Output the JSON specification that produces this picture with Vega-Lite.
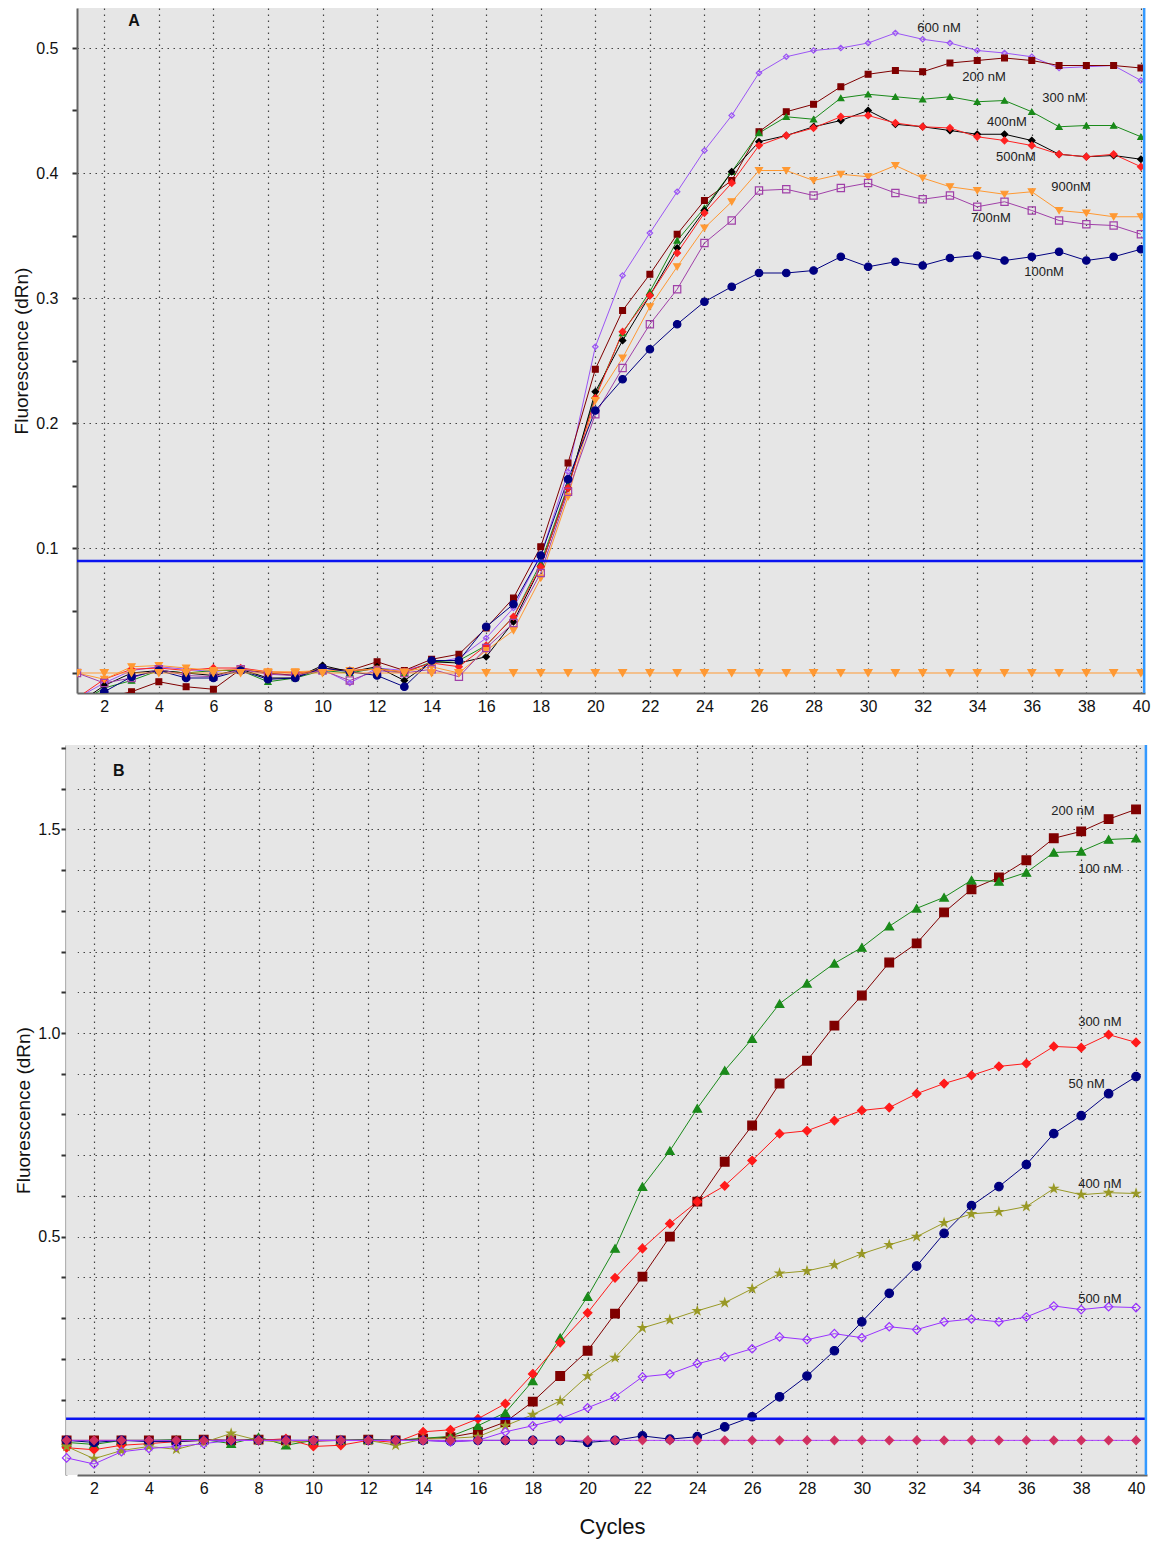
{
"$schema": "https://vega.github.io/schema/vega-lite/v6.json",
"background": "white",
"padding": {"left": 12, "top": 6, "right": 10, "bottom": 5},
"spacing": 25,
"resolve": {"scale": {"color": "independent", "stroke": "independent", "fill": "independent", "shape": "independent", "size": "independent"}},
"config": {
  "font": "Liberation Sans",
  "view": {"fill": "#e6e6e6", "stroke": null},
  "axis": {"labelFont": "Liberation Sans", "labelFontSize": 16, "labelColor": "#111", "titleFont": "Liberation Sans", "titleFontWeight": "normal", "titleColor": "#111", "gridDash": [1.5, 4.5], "gridColor": "#444", "gridWidth": 1.2, "domainColor": "#666", "domainWidth": 2, "tickColor": "#333", "tickWidth": 2, "tickSize": 5, "labelFlush": false, "labelOverlap": false}
},
"datasets": {
"a": [
{"s":"600","c":1,"v":-0.02},{"s":"600","c":2,"v":-0.008},{"s":"600","c":3,"v":0.002},{"s":"600","c":4,"v":0.005},{"s":"600","c":5,"v":0.003},{"s":"600","c":6,"v":0.001},{"s":"600","c":7,"v":0.004},{"s":"600","c":8,"v":0},{"s":"600","c":9,"v":-0.002},{"s":"600","c":10,"v":0.003},{"s":"600","c":11,"v":-0.008},{"s":"600","c":12,"v":0.004},{"s":"600","c":13,"v":0.002},{"s":"600","c":14,"v":0.008},{"s":"600","c":15,"v":0.012},{"s":"600","c":16,"v":0.028},{"s":"600","c":17,"v":0.052},{"s":"600","c":18,"v":0.094},{"s":"600","c":19,"v":0.161},{"s":"600","c":20,"v":0.261},{"s":"600","c":21,"v":0.318},{"s":"600","c":22,"v":0.352},{"s":"600","c":23,"v":0.385},{"s":"600","c":24,"v":0.418},{"s":"600","c":25,"v":0.446},{"s":"600","c":26,"v":0.48},{"s":"600","c":27,"v":0.493},{"s":"600","c":28,"v":0.498},{"s":"600","c":29,"v":0.5},{"s":"600","c":30,"v":0.504},{"s":"600","c":31,"v":0.512},{"s":"600","c":32,"v":0.507},{"s":"600","c":33,"v":0.504},{"s":"600","c":34,"v":0.498},{"s":"600","c":35,"v":0.496},{"s":"600","c":36,"v":0.493},{"s":"600","c":37,"v":0.484},{"s":"600","c":38,"v":0.485},{"s":"600","c":39,"v":0.486},{"s":"600","c":40,"v":0.474},
{"s":"200","c":1,"v":-0.03},{"s":"200","c":2,"v":-0.02},{"s":"200","c":3,"v":-0.015},{"s":"200","c":4,"v":-0.007},{"s":"200","c":5,"v":-0.011},{"s":"200","c":6,"v":-0.013},{"s":"200","c":7,"v":0.003},{"s":"200","c":8,"v":0},{"s":"200","c":9,"v":-0.002},{"s":"200","c":10,"v":0.004},{"s":"200","c":11,"v":0.002},{"s":"200","c":12,"v":0.009},{"s":"200","c":13,"v":0.002},{"s":"200","c":14,"v":0.011},{"s":"200","c":15,"v":0.015},{"s":"200","c":16,"v":0.036},{"s":"200","c":17,"v":0.06},{"s":"200","c":18,"v":0.101},{"s":"200","c":19,"v":0.168},{"s":"200","c":20,"v":0.243},{"s":"200","c":21,"v":0.29},{"s":"200","c":22,"v":0.319},{"s":"200","c":23,"v":0.351},{"s":"200","c":24,"v":0.378},{"s":"200","c":25,"v":0.394},{"s":"200","c":26,"v":0.433},{"s":"200","c":27,"v":0.449},{"s":"200","c":28,"v":0.455},{"s":"200","c":29,"v":0.469},{"s":"200","c":30,"v":0.479},{"s":"200","c":31,"v":0.482},{"s":"200","c":32,"v":0.481},{"s":"200","c":33,"v":0.488},{"s":"200","c":34,"v":0.49},{"s":"200","c":35,"v":0.492},{"s":"200","c":36,"v":0.49},{"s":"200","c":37,"v":0.486},{"s":"200","c":38,"v":0.486},{"s":"200","c":39,"v":0.486},{"s":"200","c":40,"v":0.484},
{"s":"300","c":1,"v":-0.025},{"s":"300","c":2,"v":-0.012},{"s":"300","c":3,"v":-0.006},{"s":"300","c":4,"v":0.002},{"s":"300","c":5,"v":0},{"s":"300","c":6,"v":0.002},{"s":"300","c":7,"v":0.002},{"s":"300","c":8,"v":-0.007},{"s":"300","c":9,"v":-0.004},{"s":"300","c":10,"v":0.002},{"s":"300","c":11,"v":0},{"s":"300","c":12,"v":0.004},{"s":"300","c":13,"v":0},{"s":"300","c":14,"v":0.009},{"s":"300","c":15,"v":0.01},{"s":"300","c":16,"v":0.022},{"s":"300","c":17,"v":0.045},{"s":"300","c":18,"v":0.088},{"s":"300","c":19,"v":0.15},{"s":"300","c":20,"v":0.222},{"s":"300","c":21,"v":0.272},{"s":"300","c":22,"v":0.305},{"s":"300","c":23,"v":0.346},{"s":"300","c":24,"v":0.372},{"s":"300","c":25,"v":0.401},{"s":"300","c":26,"v":0.432},{"s":"300","c":27,"v":0.445},{"s":"300","c":28,"v":0.443},{"s":"300","c":29,"v":0.46},{"s":"300","c":30,"v":0.463},{"s":"300","c":31,"v":0.461},{"s":"300","c":32,"v":0.459},{"s":"300","c":33,"v":0.461},{"s":"300","c":34,"v":0.457},{"s":"300","c":35,"v":0.458},{"s":"300","c":36,"v":0.449},{"s":"300","c":37,"v":0.437},{"s":"300","c":38,"v":0.438},{"s":"300","c":39,"v":0.438},{"s":"300","c":40,"v":0.429},
{"s":"400","c":1,"v":-0.025},{"s":"400","c":2,"v":-0.01},{"s":"400","c":3,"v":0},{"s":"400","c":4,"v":0.002},{"s":"400","c":5,"v":0},{"s":"400","c":6,"v":-0.002},{"s":"400","c":7,"v":0.003},{"s":"400","c":8,"v":-0.004},{"s":"400","c":9,"v":-0.004},{"s":"400","c":10,"v":0.006},{"s":"400","c":11,"v":0.001},{"s":"400","c":12,"v":0.005},{"s":"400","c":13,"v":-0.006},{"s":"400","c":14,"v":0.009},{"s":"400","c":15,"v":0.008},{"s":"400","c":16,"v":0.013},{"s":"400","c":17,"v":0.041},{"s":"400","c":18,"v":0.085},{"s":"400","c":19,"v":0.148},{"s":"400","c":20,"v":0.225},{"s":"400","c":21,"v":0.266},{"s":"400","c":22,"v":0.302},{"s":"400","c":23,"v":0.34},{"s":"400","c":24,"v":0.37},{"s":"400","c":25,"v":0.401},{"s":"400","c":26,"v":0.425},{"s":"400","c":27,"v":0.43},{"s":"400","c":28,"v":0.437},{"s":"400","c":29,"v":0.442},{"s":"400","c":30,"v":0.45},{"s":"400","c":31,"v":0.439},{"s":"400","c":32,"v":0.437},{"s":"400","c":33,"v":0.434},{"s":"400","c":34,"v":0.431},{"s":"400","c":35,"v":0.431},{"s":"400","c":36,"v":0.426},{"s":"400","c":37,"v":0.415},{"s":"400","c":38,"v":0.413},{"s":"400","c":39,"v":0.414},{"s":"400","c":40,"v":0.411},
{"s":"500","c":1,"v":-0.02},{"s":"500","c":2,"v":-0.005},{"s":"500","c":3,"v":0.003},{"s":"500","c":4,"v":0.004},{"s":"500","c":5,"v":0.002},{"s":"500","c":6,"v":0.004},{"s":"500","c":7,"v":0.004},{"s":"500","c":8,"v":0.001},{"s":"500","c":9,"v":0},{"s":"500","c":10,"v":0.002},{"s":"500","c":11,"v":0.002},{"s":"500","c":12,"v":0.003},{"s":"500","c":13,"v":0.001},{"s":"500","c":14,"v":0.008},{"s":"500","c":15,"v":0.005},{"s":"500","c":16,"v":0.022},{"s":"500","c":17,"v":0.045},{"s":"500","c":18,"v":0.085},{"s":"500","c":19,"v":0.148},{"s":"500","c":20,"v":0.22},{"s":"500","c":21,"v":0.273},{"s":"500","c":22,"v":0.302},{"s":"500","c":23,"v":0.336},{"s":"500","c":24,"v":0.368},{"s":"500","c":25,"v":0.392},{"s":"500","c":26,"v":0.422},{"s":"500","c":27,"v":0.43},{"s":"500","c":28,"v":0.436},{"s":"500","c":29,"v":0.445},{"s":"500","c":30,"v":0.446},{"s":"500","c":31,"v":0.44},{"s":"500","c":32,"v":0.437},{"s":"500","c":33,"v":0.436},{"s":"500","c":34,"v":0.429},{"s":"500","c":35,"v":0.426},{"s":"500","c":36,"v":0.422},{"s":"500","c":37,"v":0.415},{"s":"500","c":38,"v":0.413},{"s":"500","c":39,"v":0.415},{"s":"500","c":40,"v":0.405},
{"s":"900","c":1,"v":0},{"s":"900","c":2,"v":-0.005},{"s":"900","c":3,"v":0.005},{"s":"900","c":4,"v":0.006},{"s":"900","c":5,"v":0.004},{"s":"900","c":6,"v":0.002},{"s":"900","c":7,"v":0.003},{"s":"900","c":8,"v":0.001},{"s":"900","c":9,"v":0.001},{"s":"900","c":10,"v":0.002},{"s":"900","c":11,"v":0.002},{"s":"900","c":12,"v":0.003},{"s":"900","c":13,"v":0.001},{"s":"900","c":14,"v":0.005},{"s":"900","c":15,"v":0},{"s":"900","c":16,"v":0.018},{"s":"900","c":17,"v":0.034},{"s":"900","c":18,"v":0.076},{"s":"900","c":19,"v":0.141},{"s":"900","c":20,"v":0.218},{"s":"900","c":21,"v":0.252},{"s":"900","c":22,"v":0.293},{"s":"900","c":23,"v":0.325},{"s":"900","c":24,"v":0.356},{"s":"900","c":25,"v":0.377},{"s":"900","c":26,"v":0.402},{"s":"900","c":27,"v":0.402},{"s":"900","c":28,"v":0.394},{"s":"900","c":29,"v":0.399},{"s":"900","c":30,"v":0.397},{"s":"900","c":31,"v":0.406},{"s":"900","c":32,"v":0.396},{"s":"900","c":33,"v":0.389},{"s":"900","c":34,"v":0.386},{"s":"900","c":35,"v":0.383},{"s":"900","c":36,"v":0.385},{"s":"900","c":37,"v":0.37},{"s":"900","c":38,"v":0.368},{"s":"900","c":39,"v":0.365},{"s":"900","c":40,"v":0.365},
{"s":"700","c":1,"v":0},{"s":"700","c":2,"v":-0.008},{"s":"700","c":3,"v":-0.004},{"s":"700","c":4,"v":0.003},{"s":"700","c":5,"v":-0.002},{"s":"700","c":6,"v":-0.003},{"s":"700","c":7,"v":0.003},{"s":"700","c":8,"v":-0.001},{"s":"700","c":9,"v":-0.002},{"s":"700","c":10,"v":0.002},{"s":"700","c":11,"v":-0.006},{"s":"700","c":12,"v":0.002},{"s":"700","c":13,"v":0},{"s":"700","c":14,"v":0.003},{"s":"700","c":15,"v":-0.003},{"s":"700","c":16,"v":0.02},{"s":"700","c":17,"v":0.04},{"s":"700","c":18,"v":0.08},{"s":"700","c":19,"v":0.145},{"s":"700","c":20,"v":0.207},{"s":"700","c":21,"v":0.244},{"s":"700","c":22,"v":0.279},{"s":"700","c":23,"v":0.307},{"s":"700","c":24,"v":0.344},{"s":"700","c":25,"v":0.362},{"s":"700","c":26,"v":0.386},{"s":"700","c":27,"v":0.387},{"s":"700","c":28,"v":0.382},{"s":"700","c":29,"v":0.388},{"s":"700","c":30,"v":0.392},{"s":"700","c":31,"v":0.384},{"s":"700","c":32,"v":0.379},{"s":"700","c":33,"v":0.382},{"s":"700","c":34,"v":0.373},{"s":"700","c":35,"v":0.377},{"s":"700","c":36,"v":0.37},{"s":"700","c":37,"v":0.362},{"s":"700","c":38,"v":0.359},{"s":"700","c":39,"v":0.358},{"s":"700","c":40,"v":0.351},
{"s":"100","c":1,"v":-0.03},{"s":"100","c":2,"v":-0.015},{"s":"100","c":3,"v":-0.003},{"s":"100","c":4,"v":0.002},{"s":"100","c":5,"v":-0.004},{"s":"100","c":6,"v":-0.004},{"s":"100","c":7,"v":0.002},{"s":"100","c":8,"v":-0.005},{"s":"100","c":9,"v":-0.004},{"s":"100","c":10,"v":0.004},{"s":"100","c":11,"v":0.001},{"s":"100","c":12,"v":-0.002},{"s":"100","c":13,"v":-0.011},{"s":"100","c":14,"v":0.01},{"s":"100","c":15,"v":0.01},{"s":"100","c":16,"v":0.037},{"s":"100","c":17,"v":0.055},{"s":"100","c":18,"v":0.094},{"s":"100","c":19,"v":0.155},{"s":"100","c":20,"v":0.21},{"s":"100","c":21,"v":0.235},{"s":"100","c":22,"v":0.259},{"s":"100","c":23,"v":0.279},{"s":"100","c":24,"v":0.297},{"s":"100","c":25,"v":0.309},{"s":"100","c":26,"v":0.32},{"s":"100","c":27,"v":0.32},{"s":"100","c":28,"v":0.322},{"s":"100","c":29,"v":0.333},{"s":"100","c":30,"v":0.325},{"s":"100","c":31,"v":0.329},{"s":"100","c":32,"v":0.326},{"s":"100","c":33,"v":0.332},{"s":"100","c":34,"v":0.334},{"s":"100","c":35,"v":0.33},{"s":"100","c":36,"v":0.333},{"s":"100","c":37,"v":0.337},{"s":"100","c":38,"v":0.33},{"s":"100","c":39,"v":0.333},{"s":"100","c":40,"v":0.339},
{"s":"NTC","c":1,"v":0},{"s":"NTC","c":2,"v":0},{"s":"NTC","c":3,"v":0},{"s":"NTC","c":4,"v":0},{"s":"NTC","c":5,"v":0},{"s":"NTC","c":6,"v":0},{"s":"NTC","c":7,"v":0},{"s":"NTC","c":8,"v":0},{"s":"NTC","c":9,"v":0},{"s":"NTC","c":10,"v":0},{"s":"NTC","c":11,"v":0},{"s":"NTC","c":12,"v":0},{"s":"NTC","c":13,"v":0},{"s":"NTC","c":14,"v":0},{"s":"NTC","c":15,"v":0},{"s":"NTC","c":16,"v":0},{"s":"NTC","c":17,"v":0},{"s":"NTC","c":18,"v":0},{"s":"NTC","c":19,"v":0},{"s":"NTC","c":20,"v":0},{"s":"NTC","c":21,"v":0},{"s":"NTC","c":22,"v":0},{"s":"NTC","c":23,"v":0},{"s":"NTC","c":24,"v":0},{"s":"NTC","c":25,"v":0},{"s":"NTC","c":26,"v":0},{"s":"NTC","c":27,"v":0},{"s":"NTC","c":28,"v":0},{"s":"NTC","c":29,"v":0},{"s":"NTC","c":30,"v":0},{"s":"NTC","c":31,"v":0},{"s":"NTC","c":32,"v":0},{"s":"NTC","c":33,"v":0},{"s":"NTC","c":34,"v":0},{"s":"NTC","c":35,"v":0},{"s":"NTC","c":36,"v":0},{"s":"NTC","c":37,"v":0},{"s":"NTC","c":38,"v":0},{"s":"NTC","c":39,"v":0},{"s":"NTC","c":40,"v":0}
],
"b": [
{"s":"200","c":1,"v":0},{"s":"200","c":2,"v":0},{"s":"200","c":3,"v":0},{"s":"200","c":4,"v":0},{"s":"200","c":5,"v":0},{"s":"200","c":6,"v":0.002},{"s":"200","c":7,"v":0},{"s":"200","c":8,"v":0.002},{"s":"200","c":9,"v":0},{"s":"200","c":10,"v":-0.002},{"s":"200","c":11,"v":0},{"s":"200","c":12,"v":0.002},{"s":"200","c":13,"v":0},{"s":"200","c":14,"v":0.004},{"s":"200","c":15,"v":0.008},{"s":"200","c":16,"v":0.02},{"s":"200","c":17,"v":0.045},{"s":"200","c":18,"v":0.095},{"s":"200","c":19,"v":0.158},{"s":"200","c":20,"v":0.22},{"s":"200","c":21,"v":0.311},{"s":"200","c":22,"v":0.402},{"s":"200","c":23,"v":0.5},{"s":"200","c":24,"v":0.586},{"s":"200","c":25,"v":0.684},{"s":"200","c":26,"v":0.773},{"s":"200","c":27,"v":0.876},{"s":"200","c":28,"v":0.932},{"s":"200","c":29,"v":1.018},{"s":"200","c":30,"v":1.092},{"s":"200","c":31,"v":1.173},{"s":"200","c":32,"v":1.22},{"s":"200","c":33,"v":1.296},{"s":"200","c":34,"v":1.353},{"s":"200","c":35,"v":1.382},{"s":"200","c":36,"v":1.424},{"s":"200","c":37,"v":1.478},{"s":"200","c":38,"v":1.495},{"s":"200","c":39,"v":1.525},{"s":"200","c":40,"v":1.549},
{"s":"100","c":1,"v":-0.005},{"s":"100","c":2,"v":-0.01},{"s":"100","c":3,"v":0},{"s":"100","c":4,"v":0},{"s":"100","c":5,"v":0.002},{"s":"100","c":6,"v":0.002},{"s":"100","c":7,"v":-0.008},{"s":"100","c":8,"v":0.008},{"s":"100","c":9,"v":-0.012},{"s":"100","c":10,"v":0},{"s":"100","c":11,"v":0},{"s":"100","c":12,"v":0.002},{"s":"100","c":13,"v":0},{"s":"100","c":14,"v":0.005},{"s":"100","c":15,"v":0.01},{"s":"100","c":16,"v":0.036},{"s":"100","c":17,"v":0.068},{"s":"100","c":18,"v":0.146},{"s":"100","c":19,"v":0.252},{"s":"100","c":20,"v":0.353},{"s":"100","c":21,"v":0.471},{"s":"100","c":22,"v":0.623},{"s":"100","c":23,"v":0.711},{"s":"100","c":24,"v":0.815},{"s":"100","c":25,"v":0.908},{"s":"100","c":26,"v":0.986},{"s":"100","c":27,"v":1.072},{"s":"100","c":28,"v":1.122},{"s":"100","c":29,"v":1.171},{"s":"100","c":30,"v":1.21},{"s":"100","c":31,"v":1.262},{"s":"100","c":32,"v":1.306},{"s":"100","c":33,"v":1.333},{"s":"100","c":34,"v":1.375},{"s":"100","c":35,"v":1.372},{"s":"100","c":36,"v":1.394},{"s":"100","c":37,"v":1.443},{"s":"100","c":38,"v":1.446},{"s":"100","c":39,"v":1.475},{"s":"100","c":40,"v":1.478},
{"s":"300","c":1,"v":-0.018},{"s":"300","c":2,"v":-0.023},{"s":"300","c":3,"v":-0.012},{"s":"300","c":4,"v":-0.008},{"s":"300","c":5,"v":-0.003},{"s":"300","c":6,"v":0},{"s":"300","c":7,"v":0},{"s":"300","c":8,"v":0},{"s":"300","c":9,"v":0.004},{"s":"300","c":10,"v":-0.015},{"s":"300","c":11,"v":-0.012},{"s":"300","c":12,"v":0},{"s":"300","c":13,"v":-0.005},{"s":"300","c":14,"v":0.021},{"s":"300","c":15,"v":0.026},{"s":"300","c":16,"v":0.053},{"s":"300","c":17,"v":0.09},{"s":"300","c":18,"v":0.163},{"s":"300","c":19,"v":0.24},{"s":"300","c":20,"v":0.313},{"s":"300","c":21,"v":0.399},{"s":"300","c":22,"v":0.471},{"s":"300","c":23,"v":0.532},{"s":"300","c":24,"v":0.586},{"s":"300","c":25,"v":0.625},{"s":"300","c":26,"v":0.687},{"s":"300","c":27,"v":0.753},{"s":"300","c":28,"v":0.76},{"s":"300","c":29,"v":0.785},{"s":"300","c":30,"v":0.81},{"s":"300","c":31,"v":0.817},{"s":"300","c":32,"v":0.851},{"s":"300","c":33,"v":0.876},{"s":"300","c":34,"v":0.896},{"s":"300","c":35,"v":0.918},{"s":"300","c":36,"v":0.925},{"s":"300","c":37,"v":0.967},{"s":"300","c":38,"v":0.964},{"s":"300","c":39,"v":0.996},{"s":"300","c":40,"v":0.977},
{"s":"50","c":1,"v":0},{"s":"50","c":2,"v":-0.005},{"s":"50","c":3,"v":0},{"s":"50","c":4,"v":-0.003},{"s":"50","c":5,"v":-0.003},{"s":"50","c":6,"v":0},{"s":"50","c":7,"v":0},{"s":"50","c":8,"v":0},{"s":"50","c":9,"v":0},{"s":"50","c":10,"v":0},{"s":"50","c":11,"v":0},{"s":"50","c":12,"v":0},{"s":"50","c":13,"v":0},{"s":"50","c":14,"v":0},{"s":"50","c":15,"v":-0.002},{"s":"50","c":16,"v":0},{"s":"50","c":17,"v":0},{"s":"50","c":18,"v":0},{"s":"50","c":19,"v":0},{"s":"50","c":20,"v":-0.005},{"s":"50","c":21,"v":0},{"s":"50","c":22,"v":0.011},{"s":"50","c":23,"v":0.003},{"s":"50","c":24,"v":0.009},{"s":"50","c":25,"v":0.033},{"s":"50","c":26,"v":0.058},{"s":"50","c":27,"v":0.107},{"s":"50","c":28,"v":0.158},{"s":"50","c":29,"v":0.22},{"s":"50","c":30,"v":0.291},{"s":"50","c":31,"v":0.361},{"s":"50","c":32,"v":0.428},{"s":"50","c":33,"v":0.508},{"s":"50","c":34,"v":0.576},{"s":"50","c":35,"v":0.623},{"s":"50","c":36,"v":0.677},{"s":"50","c":37,"v":0.753},{"s":"50","c":38,"v":0.797},{"s":"50","c":39,"v":0.851},{"s":"50","c":40,"v":0.893},
{"s":"400","c":1,"v":-0.015},{"s":"400","c":2,"v":-0.045},{"s":"400","c":3,"v":-0.025},{"s":"400","c":4,"v":-0.015},{"s":"400","c":5,"v":-0.022},{"s":"400","c":6,"v":-0.005},{"s":"400","c":7,"v":0.017},{"s":"400","c":8,"v":0},{"s":"400","c":9,"v":-0.005},{"s":"400","c":10,"v":0},{"s":"400","c":11,"v":0},{"s":"400","c":12,"v":0},{"s":"400","c":13,"v":-0.012},{"s":"400","c":14,"v":0.003},{"s":"400","c":15,"v":0.005},{"s":"400","c":16,"v":0.009},{"s":"400","c":17,"v":0.036},{"s":"400","c":18,"v":0.063},{"s":"400","c":19,"v":0.097},{"s":"400","c":20,"v":0.158},{"s":"400","c":21,"v":0.203},{"s":"400","c":22,"v":0.276},{"s":"400","c":23,"v":0.296},{"s":"400","c":24,"v":0.318},{"s":"400","c":25,"v":0.338},{"s":"400","c":26,"v":0.372},{"s":"400","c":27,"v":0.41},{"s":"400","c":28,"v":0.416},{"s":"400","c":29,"v":0.431},{"s":"400","c":30,"v":0.458},{"s":"400","c":31,"v":0.48},{"s":"400","c":32,"v":0.5},{"s":"400","c":33,"v":0.534},{"s":"400","c":34,"v":0.556},{"s":"400","c":35,"v":0.561},{"s":"400","c":36,"v":0.574},{"s":"400","c":37,"v":0.618},{"s":"400","c":38,"v":0.603},{"s":"400","c":39,"v":0.608},{"s":"400","c":40,"v":0.606},
{"s":"500","c":1,"v":-0.043},{"s":"500","c":2,"v":-0.058},{"s":"500","c":3,"v":-0.028},{"s":"500","c":4,"v":-0.02},{"s":"500","c":5,"v":-0.015},{"s":"500","c":6,"v":-0.008},{"s":"500","c":7,"v":0},{"s":"500","c":8,"v":0},{"s":"500","c":9,"v":0},{"s":"500","c":10,"v":0},{"s":"500","c":11,"v":0},{"s":"500","c":12,"v":0},{"s":"500","c":13,"v":0},{"s":"500","c":14,"v":0},{"s":"500","c":15,"v":-0.004},{"s":"500","c":16,"v":0},{"s":"500","c":17,"v":0.021},{"s":"500","c":18,"v":0.036},{"s":"500","c":19,"v":0.053},{"s":"500","c":20,"v":0.08},{"s":"500","c":21,"v":0.107},{"s":"500","c":22,"v":0.156},{"s":"500","c":23,"v":0.163},{"s":"500","c":24,"v":0.188},{"s":"500","c":25,"v":0.205},{"s":"500","c":26,"v":0.225},{"s":"500","c":27,"v":0.254},{"s":"500","c":28,"v":0.247},{"s":"500","c":29,"v":0.262},{"s":"500","c":30,"v":0.252},{"s":"500","c":31,"v":0.279},{"s":"500","c":32,"v":0.272},{"s":"500","c":33,"v":0.291},{"s":"500","c":34,"v":0.298},{"s":"500","c":35,"v":0.291},{"s":"500","c":36,"v":0.303},{"s":"500","c":37,"v":0.33},{"s":"500","c":38,"v":0.321},{"s":"500","c":39,"v":0.328},{"s":"500","c":40,"v":0.326},
{"s":"NTC","c":1,"v":0},{"s":"NTC","c":2,"v":0},{"s":"NTC","c":3,"v":0},{"s":"NTC","c":4,"v":0},{"s":"NTC","c":5,"v":0},{"s":"NTC","c":6,"v":0},{"s":"NTC","c":7,"v":0},{"s":"NTC","c":8,"v":0},{"s":"NTC","c":9,"v":0},{"s":"NTC","c":10,"v":0},{"s":"NTC","c":11,"v":0},{"s":"NTC","c":12,"v":0},{"s":"NTC","c":13,"v":0},{"s":"NTC","c":14,"v":0},{"s":"NTC","c":15,"v":0},{"s":"NTC","c":16,"v":0},{"s":"NTC","c":17,"v":0},{"s":"NTC","c":18,"v":0},{"s":"NTC","c":19,"v":0},{"s":"NTC","c":20,"v":0},{"s":"NTC","c":21,"v":0},{"s":"NTC","c":22,"v":0},{"s":"NTC","c":23,"v":0},{"s":"NTC","c":24,"v":0},{"s":"NTC","c":25,"v":0},{"s":"NTC","c":26,"v":0},{"s":"NTC","c":27,"v":0},{"s":"NTC","c":28,"v":0},{"s":"NTC","c":29,"v":0},{"s":"NTC","c":30,"v":0},{"s":"NTC","c":31,"v":0},{"s":"NTC","c":32,"v":0},{"s":"NTC","c":33,"v":0},{"s":"NTC","c":34,"v":0},{"s":"NTC","c":35,"v":0},{"s":"NTC","c":36,"v":0},{"s":"NTC","c":37,"v":0},{"s":"NTC","c":38,"v":0},{"s":"NTC","c":39,"v":0},{"s":"NTC","c":40,"v":0}
],
"labA": [
{"c":32.6,"v":0.516,"t":"600 nM"},{"c":34.25,"v":0.4768,"t":"200 nM"},{"c":37.18,"v":0.46,"t":"300 nM"},{"c":35.09,"v":0.441,"t":"400nM"},{"c":35.42,"v":0.413,"t":"500nM"},{"c":37.44,"v":0.389,"t":"900nM"},{"c":34.5,"v":0.364,"t":"700nM"},{"c":36.45,"v":0.321,"t":"100nM"}
],
"labB": [
{"c":37.7,"v":1.544,"t":"200 nM"},{"c":38.68,"v":1.402,"t":"100 nM"},{"c":38.68,"v":1.026,"t":"300 nM"},{"c":38.2,"v":0.876,"t":"50 nM"},{"c":38.68,"v":0.63,"t":"400 nM"},{"c":38.68,"v":0.348,"t":"500 nM"}
]
},
"vconcat": [
{
 "width": 1068, "height": 685,
 "layer": [
  {"data": {"name": "a"},
   "mark": {"type": "line", "strokeWidth": 1, "clip": true},
   "encoding": {
    "x": {"field": "c", "type": "quantitative", "scale": {"domain": [1, 40.15], "nice": false, "zero": false},
          "axis": {"values": [2,4,6,8,10,12,14,16,18,20,22,24,26,28,30,32,34,36,38,40], "ticks": false, "title": null, "labelPadding": 5}},
    "y": {"field": "v", "type": "quantitative", "scale": {"domain": [-0.016, 0.532], "nice": false, "zero": false},
          "axis": {"values": [0,0.05,0.1,0.15,0.2,0.25,0.3,0.35,0.4,0.45,0.5], "title": "Fluorescence (dRn)", "titleFontSize": 19, "titlePadding": 4, "labelPadding": 14, "labelOverlap": false,
                   "labelExpr": "datum.value > 0.01 && abs(datum.value*10 - round(datum.value*10)) < 0.01 ? format(datum.value, '.1f') : ''",
                   "gridOpacity": {"condition": {"test": "datum.value > 0.01 && abs(datum.value*10 - round(datum.value*10)) < 0.01", "value": 1}, "value": 0}}},
    "color": {"field": "s", "type": "nominal", "legend": null,
              "scale": {"domain": ["600","200","300","400","500","900","700","100","NTC"], "range": ["#9b55f5","#7f0000","#1a8a1a","#000000","#ff2222","#ff9933","#a040a8","#000080","#ff9933"]}}
   }},
  {"data": {"name": "a"},
   "mark": {"type": "point", "clip": true, "strokeWidth": 1.2, "opacity": 1},
   "encoding": {
    "x": {"field": "c", "type": "quantitative", "scale": {"domain": [1, 40.15], "nice": false, "zero": false}},
    "y": {"field": "v", "type": "quantitative", "scale": {"domain": [-0.016, 0.532], "nice": false, "zero": false}},
    "shape": {"field": "s", "type": "nominal", "legend": null,
              "scale": {"domain": ["600","200","300","400","500","900","700","100","NTC"], "range": ["diamond","square","triangle-up","diamond","diamond","triangle-down","square","circle","triangle-down"]}},
    "stroke": {"field": "s", "type": "nominal", "legend": null,
              "scale": {"domain": ["600","200","300","400","500","900","700","100","NTC"], "range": ["#9b55f5","#7f0000","#1a8a1a","#000000","#ff2222","#ff9933","#a040a8","#000080","#ff9933"]}},
    "fill": {"field": "s", "type": "nominal", "legend": null,
              "scale": {"domain": ["600","200","300","400","500","900","700","100","NTC"], "range": ["transparent","#7f0000","#1a8a1a","#000000","#ff2222","#ff9933","transparent","#000080","#ff9933"]}},
    "size": {"field": "s", "type": "nominal", "legend": null,
              "scale": {"domain": ["600","200","300","400","500","900","700","100","NTC"], "range": [30,60,55,50,45,60,45,55,60]}}
   }},
  {"data": {"values": [{}]},
   "mark": {"type": "rule", "color": "#0a14f0", "strokeWidth": 2.5},
   "encoding": {"y": {"datum": 0.0896, "type": "quantitative", "scale": {"domain": [-0.016, 0.532], "nice": false, "zero": false}}}},
  {"data": {"values": [{}]},
   "mark": {"type": "rule", "color": "#3399ff", "strokeWidth": 2.5},
   "encoding": {"x": {"datum": 40.12, "type": "quantitative", "scale": {"domain": [1, 40.15], "nice": false, "zero": false}}}},
  {"data": {"name": "labA"},
   "mark": {"type": "text", "fontSize": 13, "color": "#222", "align": "center", "baseline": "middle"},
   "encoding": {
    "x": {"field": "c", "type": "quantitative", "scale": {"domain": [1, 40.15], "nice": false, "zero": false}},
    "y": {"field": "v", "type": "quantitative", "scale": {"domain": [-0.016, 0.532], "nice": false, "zero": false}},
    "text": {"field": "t"}}},
  {"data": {"values": [{"c": 3.09, "v": 0.522, "t": "A"}]},
   "mark": {"type": "text", "fontSize": 16, "fontWeight": "bold", "color": "#111", "align": "center", "baseline": "middle"},
   "encoding": {
    "x": {"field": "c", "type": "quantitative", "scale": {"domain": [1, 40.15], "nice": false, "zero": false}},
    "y": {"field": "v", "type": "quantitative", "scale": {"domain": [-0.016, 0.532], "nice": false, "zero": false}},
    "text": {"field": "t"}}}
 ]
},
{
 "width": 1070, "height": 730,
 "layer": [
  {"data": {"name": "b"},
   "mark": {"type": "line", "strokeWidth": 1, "clip": false, "opacity": 0},
   "encoding": {
    "x": {"field": "c", "type": "quantitative", "scale": {"domain": [1.379, 40.4], "nice": false, "zero": false},
          "axis": {"values": [2,4,6,8,10,12,14,16,18,20,22,24,26,28,30,32,34,36,38,40], "grid": true, "gridOpacity": 1, "ticks": false, "title": "Cycles", "titleFontSize": 22, "titlePadding": 20, "labelPadding": 5}},
    "y": {"field": "v", "type": "quantitative", "scale": {"domain": [-0.085, 1.707], "nice": false, "zero": false},
          "axis": {"values": [0,0.05,0.1,0.15,0.2,0.25,0.3,0.35,0.4,0.45,0.5,0.55,0.6,0.65,0.7,0.75,0.8,0.85,0.9,0.95,1,1.05,1.1,1.15,1.2,1.25,1.3,1.35,1.4,1.45,1.5,1.55,1.6,1.65,1.7], "grid": true, "title": "Fluorescence (dRn)", "titleFontSize": 19, "titlePadding": 4, "labelPadding": 1, "labelOverlap": false, "offset": 11,
                   "labelExpr": "datum.value > 0.01 && abs(datum.value*2 - round(datum.value*2)) < 0.01 ? format(datum.value, '.1f') : ''",
                   "gridOpacity": {"condition": {"test": "abs(datum.value*10 - round(datum.value*10)) < 0.01", "value": 1}, "value": 0}}},
    "detail": {"field": "s", "type": "nominal"}
   }},
  {"data": {"values": [{}]},
   "mark": {"type": "rect", "color": "#e6e6e6", "clip": false},
   "encoding": {
    "x": {"datum": 0.98, "type": "quantitative", "scale": {"domain": [1.379, 40.4], "nice": false, "zero": false}},
    "x2": {"datum": 1.40},
    "y": {"datum": -0.085, "type": "quantitative", "scale": {"domain": [-0.085, 1.707], "nice": false, "zero": false}},
    "y2": {"datum": 1.707}}},
  {"data": {"name": "b"},
   "mark": {"type": "line", "strokeWidth": 1, "clip": false},
   "encoding": {
    "x": {"field": "c", "type": "quantitative", "scale": {"domain": [1.379, 40.4], "nice": false, "zero": false}},
    "y": {"field": "v", "type": "quantitative", "scale": {"domain": [-0.085, 1.707], "nice": false, "zero": false}},
    "color": {"field": "s", "type": "nominal", "legend": null,
              "scale": {"domain": ["200","100","300","50","400","500","NTC"], "range": ["#800000","#1a8a1a","#ff1a1a","#000080","#999926","#9933ff","#b040ff"]}}
   }},
  {"data": {"name": "b"},
   "mark": {"type": "point", "clip": false, "strokeWidth": 1.2, "opacity": 1},
   "encoding": {
    "x": {"field": "c", "type": "quantitative", "scale": {"domain": [1.379, 40.4], "nice": false, "zero": false}},
    "y": {"field": "v", "type": "quantitative", "scale": {"domain": [-0.085, 1.707], "nice": false, "zero": false}},
    "shape": {"field": "s", "type": "nominal", "legend": null,
              "scale": {"domain": ["200","100","300","50","400","500","NTC"], "range": ["square","triangle-up","diamond","circle","M0,-1L0.22,-0.3L0.95,-0.3L0.36,0.12L0.59,0.81L0,0.38L-0.59,0.81L-0.36,0.12L-0.95,-0.3L-0.22,-0.3Z","diamond","diamond"]}},
    "stroke": {"field": "s", "type": "nominal", "legend": null,
              "scale": {"domain": ["200","100","300","50","400","500","NTC"], "range": ["#800000","#1a8a1a","#ff1a1a","#000080","#999926","#9933ff","#d03060"]}},
    "fill": {"field": "s", "type": "nominal", "legend": null,
              "scale": {"domain": ["200","100","300","50","400","500","NTC"], "range": ["#800000","#1a8a1a","#ff1a1a","#000080","#999926","transparent","#d03060"]}},
    "size": {"field": "s", "type": "nominal", "legend": null,
              "scale": {"domain": ["200","100","300","50","400","500","NTC"], "range": [75,70,70,70,65,38,45]}}
   }},
  {"data": {"values": [{}]},
   "mark": {"type": "rule", "color": "#0a14f0", "strokeWidth": 2.5, "clip": false},
   "encoding": {
    "x": {"datum": 0.98, "type": "quantitative", "scale": {"domain": [1.379, 40.4], "nice": false, "zero": false}},
    "x2": {"datum": 40.4},
    "y": {"datum": 0.053, "type": "quantitative", "scale": {"domain": [-0.085, 1.707], "nice": false, "zero": false}}}},
  {"data": {"values": [{}]},
   "mark": {"type": "rule", "color": "#3399ff", "strokeWidth": 2.5},
   "encoding": {"x": {"datum": 40.36, "type": "quantitative", "scale": {"domain": [1.379, 40.4], "nice": false, "zero": false}}}},
  {"data": {"name": "labB"},
   "mark": {"type": "text", "fontSize": 13, "color": "#222", "align": "center", "baseline": "middle"},
   "encoding": {
    "x": {"field": "c", "type": "quantitative", "scale": {"domain": [1.379, 40.4], "nice": false, "zero": false}},
    "y": {"field": "v", "type": "quantitative", "scale": {"domain": [-0.085, 1.707], "nice": false, "zero": false}},
    "text": {"field": "t"}}},
  {"data": {"values": [{"c": 2.9, "v": 1.643, "t": "B"}]},
   "mark": {"type": "text", "fontSize": 16, "fontWeight": "bold", "color": "#111", "align": "center", "baseline": "middle"},
   "encoding": {
    "x": {"field": "c", "type": "quantitative", "scale": {"domain": [1.379, 40.4], "nice": false, "zero": false}},
    "y": {"field": "v", "type": "quantitative", "scale": {"domain": [-0.085, 1.707], "nice": false, "zero": false}},
    "text": {"field": "t"}}}
 ]
}
]
}
